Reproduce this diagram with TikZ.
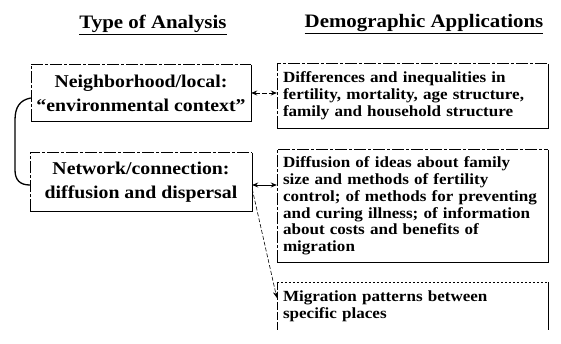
\documentclass[tikz,border=0pt]{standalone}
\usepackage{fontspec}
\setmainfont{Liberation Serif}[FakeStretch=1.1]
\usetikzlibrary{arrows.meta}
\begin{document}
\begin{tikzpicture}[x=1pt,y=-1pt,
  lbox/.style={inner sep=0pt, align=center, font=\fontsize{18}{24}\selectfont\bfseries},
  rbox/.style={inner xsep=6pt, inner ysep=0pt, text width=259pt, align=left,
               minimum width=271pt, font=\fontsize{15.5}{16.8}\selectfont\bfseries},
  ttl/.style={font=\fontsize{19}{22}\selectfont\bfseries, anchor=base, inner sep=0pt},
  thinedge/.style={line width=0.6pt, dash pattern=on 12pt off 2pt on 3pt off 2pt},
  thickedge/.style={line width=1.3pt},
  tip/.style={-{Stealth[length=6pt,width=5pt]}},
  tips/.style={{Stealth[length=6pt,width=5pt]}-{Stealth[length=6pt,width=5pt]}},
  link/.style={line width=0.8pt}]
\useasboundingbox (0,0) rectangle (561,344);

% titles
\node[ttl] (t1) at (153,29) {\underline{Type of Analysis}};
\node[ttl] (t2) at (424,28) {\underline{Demographic Applications}};

% left boxes
\node[lbox, minimum width=220pt, minimum height=56pt] (n1) at (141,93)
  {Neighborhood/local:\\``environmental context''};
\node[lbox, minimum width=222pt, minimum height=58pt] (n2) at (141,182)
  {Network/connection:\\diffusion and dispersal};

% right boxes
\node[rbox, minimum height=64pt] (a) at (412.5,96)
  {Differences and inequalities in\\fertility, mortality, age structure,\\family and household structure};
\node[rbox, minimum height=112pt] (b) at (412.5,206)
  {Diffusion of ideas about family\\size and methods of fertility\\control; of methods for preventing\\and curing illness; of information\\about costs and benefits of\\migration};
\node[rbox, minimum height=48pt] (c) at (412.5,306)
  {Migration patterns between\\specific places};

% borders
\foreach \q in {n1,n2,a,b}{
  \draw[thinedge] (\q.south west) -- (\q.north west) -- (\q.north east);
  \draw[thickedge] (\q.north east) -- (\q.south east) -- (\q.south west);
}
\draw[line width=0.5pt, dash pattern=on 2pt off 2pt] (c.north west) -- (c.north east);
\draw[line width=0.6pt, dash pattern=on 8pt off 2pt] (c.north west) -- (c.south west);
\draw[line width=1pt] (c.north east) -- (c.south east);

% connectors
\draw[link, tips, dash pattern=on 5pt off 2pt] (n1.east) -- (n1.east -| a.west);
\draw[link, tips] ([yshift=-3pt]n2.east) -- ([yshift=-3pt]n2.east -| b.west);
\draw[line width=0.6pt, tip, dash pattern=on 4pt off 2pt] ([yshift=-7pt]n2.east) -- ([yshift=-16pt]c.north west);
\draw[line width=1.3pt] ([yshift=-5pt]n1.west) .. controls (20,100) and (15,107) .. (15,120)
  -- (15,170) .. controls (15,180) and (20,185) .. ([yshift=-3pt]n2.west);
\end{tikzpicture}
\end{document}
